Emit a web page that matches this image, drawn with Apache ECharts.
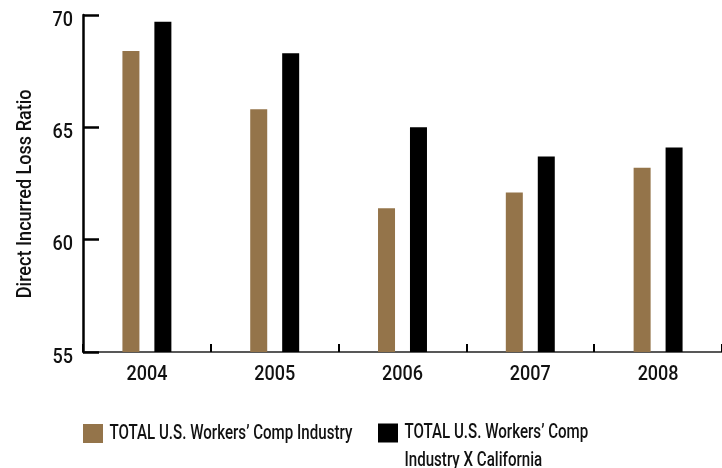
<!DOCTYPE html>
<html>
<head>
<meta charset="utf-8">
<script src="https://cdn.jsdelivr.net/npm/echarts@6/dist/echarts.min.js"></script>
<style>
  html, body { margin: 0; padding: 0; background: #fff; }
  #chart { width: 722px; height: 468px; }
</style>
</head>
<body>
<div id="chart"></div>
<script>
// Direct incurred loss ratio by year, two industry totals
const years = ['2004', '2005', '2006', '2007', '2008'];
const usTotal = [68.4, 65.8, 61.4, 62.1, 63.2];
const usExCalifornia = [69.7, 68.3, 65.0, 63.7, 64.1];
const seriesNames = ['TOTAL U.S. Workers’ Comp Industry', 'TOTAL U.S. Workers’ Comp Industry X California'];
const yAxisName = 'Direct Incurred Loss Ratio';
const yTicks = { min: 55, max: 70, interval: 5 };

const FONT = 'Roboto, "Liberation Sans", sans-serif';
const WEIGHT = 500;
const BROWN = '#94744a';
const BLACK = '#000000';

// horizontal squeeze applied to rendered text, giving a condensed face
const SQUEEZE = { number: 0.9, axisName: 0.86, legend: 0.72 };

const chart = echarts.init(document.getElementById('chart'), null, { renderer: 'canvas' });

chart.setOption({
  animation: false,
  backgroundColor: '#ffffff',
  textStyle: { fontFamily: FONT, color: '#111' },
  grid: { left: 83, right: 0, top: 15, bottom: 116, containLabel: false },
  legend: [
    {
      data: [seriesNames[0]],
      left: 83, top: 423,
      padding: 0,
      itemWidth: 20, itemHeight: 19,
      icon: 'rect',
      textStyle: { fontFamily: FONT, fontWeight: WEIGHT, fontSize: 21, color: '#111', padding: [0, 0, 0, 2] }
    },
    {
      data: [seriesNames[1]],
      left: 378, top: 391,
      padding: 0,
      itemWidth: 20, itemHeight: 19,
      icon: 'rect',
      formatter: function () {
        return '\nTOTAL U.S. Workers’ Comp\nIndustry X California';
      },
      textStyle: { fontFamily: FONT, fontWeight: WEIGHT, fontSize: 21, lineHeight: 28, color: '#111', padding: [0, 0, 0, 2] }
    }
  ],
  xAxis: {
    type: 'category',
    data: years,
    boundaryGap: true,
    axisLine: { show: true, lineStyle: { color: '#222', width: 1.5 } },
    axisTick: { show: true, inside: true, length: 8, lineStyle: { color: '#000', width: 2 } },
    axisLabel: { margin: 13, fontFamily: FONT, fontWeight: WEIGHT, fontSize: 20, color: '#111' },
    splitLine: { show: false }
  },
  yAxis: {
    type: 'value',
    min: yTicks.min, max: yTicks.max, interval: yTicks.interval,
    // trailing spacer nudges the rotated title below the axis midpoint
    name: '{t|' + yAxisName + '}{gap|}',
    nameLocation: 'middle',
    nameGap: 47,
    nameRotate: 90,
    nameTextStyle: {
      fontFamily: FONT, fontWeight: WEIGHT, fontSize: 21, color: '#111',
      rich: {
        t: { fontFamily: FONT, fontWeight: WEIGHT, fontSize: 21, color: '#111' },
        gap: { width: 24 }
      }
    },
    axisLine: { show: true, lineStyle: { color: '#000', width: 2.5 } },
    axisTick: { show: true, inside: true, length: 16, lineStyle: { color: '#000', width: 2.5 } },
    axisLabel: { margin: 10, fontFamily: FONT, fontWeight: WEIGHT, fontSize: 20, color: '#111', verticalAlign: 'top', lineHeight: 11 },
    splitLine: { show: false }
  },
  series: [
    {
      name: seriesNames[0],
      type: 'bar',
      data: usTotal,
      barWidth: 17,
      barGap: '88%',
      itemStyle: { color: BROWN }
    },
    {
      name: seriesNames[1],
      type: 'bar',
      data: usExCalifornia,
      barWidth: 17,
      barGap: '88%',
      itemStyle: { color: BLACK }
    }
  ]
});

// squeeze every text element around its own anchor point
function squeezeText(el) {
  if (el.type === 'text') {
    const txt = String(el.style.text == null ? '' : el.style.text);
    let f = SQUEEZE.legend;
    if (/^[\d.]+$/.test(txt)) f = SQUEEZE.number;
    else if (txt.indexOf(yAxisName) >= 0) f = SQUEEZE.axisName;
    el.originX = el.style.x || 0;
    el.originY = el.style.y || 0;
    el.scaleX = f;
    el.markRedraw();
  }
  if (el.isGroup) el.eachChild(squeezeText);
}
const zr = chart.getZr();
zr.storage.getRoots().forEach(squeezeText);
zr.refreshImmediately();
</script>
</body>
</html>
